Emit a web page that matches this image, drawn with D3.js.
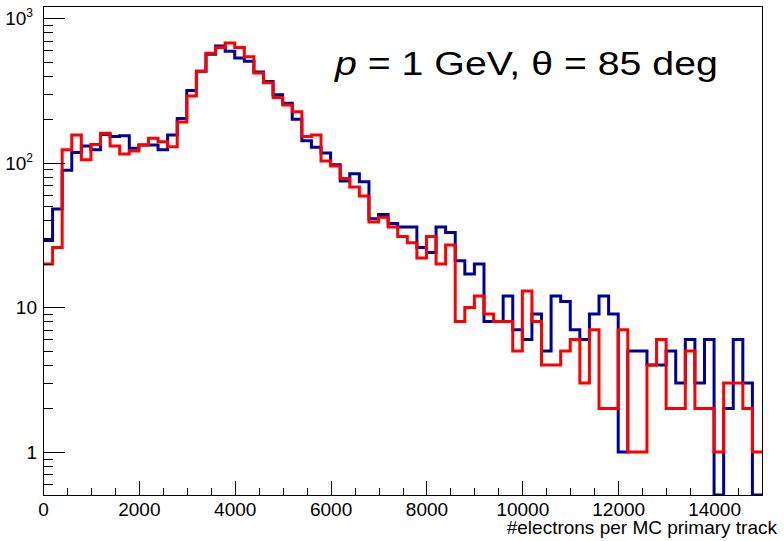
<!DOCTYPE html>
<html>
<head>
<meta charset="utf-8">
<script src="https://cdn.jsdelivr.net/npm/d3@7"></script>
<style>
  body { margin: 0; background: #fff; }
  svg { display: block; font-family: "Liberation Sans", Arial, Helvetica, sans-serif; }
</style>
</head>
<body>
<svg id="chart" width="784" height="541"></svg>
<script>
/* histogram data: 75 bins of 200 electrons, 0 .. 15000 */
var binWidth = 200
var blueCounts = [
  29, 48, 89, 118, 131, 123, 157, 152, 154, 126,
  133, 133, 123, 156, 203, 316, 430, 563, 643, 592,
  531, 504, 425, 365, 296, 258, 200, 142, 128, 117,
  97, 75, 84, 74, 41, 44, 38, 36, 36, 26,
  24, 36, 33, 21, 17, 20, 8, 8, 12, 7,
  6, 9, 5, 12, 11, 7, 6, 9, 12, 9,
  1, 5, 5, 4, 4, 5, 3, 6, 3, 6,
  0, 2, 6, 3, 0
]
var redCounts = [
  20, 26, 123, 156, 105, 134, 160, 131, 115, 121,
  133, 148, 140, 129, 192, 290, 430, 573, 627, 675,
  627, 542, 418, 358, 283, 251, 226, 152, 156, 103,
  95, 78, 68, 59, 39, 42, 36, 31, 28, 22,
  31, 20, 27, 8, 10, 12, 9, 8, 8, 5,
  13, 8, 4, 4, 5, 6, 3, 7, 2, 2,
  7, 1, 1, 4, 6, 2, 2, 5, 2, 2,
  1, 3, 3, 2, 1
]
var xTicks = [0, 2000, 4000, 6000, 8000, 10000, 12000, 14000]
var xMinorStep = 500
var yTicks = [1, 10, 100, 1000]
var yTickBase = ["1", "10", "10", "10"]
var yTickExp = ["", "", "2", "3"]
var xTitle = "#electrons per MC primary track"

/* frame */
var fLeft = 43, fRight = 762, fTop = 6, fBottom = 495
var xMax = binWidth * blueCounts.length
var yMin = 0.504, yMax = 1216

var svg = d3.select("#chart")

var x = d3.scaleLinear().domain([0, xMax]).range([fLeft, fRight])
var y = d3.scaleLog().domain([yMin, yMax]).range([fBottom, fTop])

svg.append("clipPath").attr("id", "frameClip")
  .append("rect")
  .attr("x", fLeft).attr("y", fTop)
  .attr("width", fRight - fLeft).attr("height", fBottom - fTop)

/* step outline like ROOT "HIST" (empty bins sit on the frame bottom) */
var stepPoints = function (counts) {
  var pts = []
  counts.forEach(function (v, i) {
    var yy = y(Math.max(v, yMin))
    pts.push([x(i * binWidth), yy])
    pts.push([x((i + 1) * binWidth), yy])
  })
  return pts
}

var line = d3.line()

var hists = svg.append("g").attr("clip-path", "url(#frameClip)")
hists.append("path")
  .attr("d", line(stepPoints(blueCounts)))
  .attr("fill", "none")
  .attr("stroke", "#000099")
  .attr("stroke-width", 3)
hists.append("path")
  .attr("d", line(stepPoints(redCounts)))
  .attr("fill", "none")
  .attr("stroke", "#ff0000")
  .attr("stroke-width", 3)

/* frame box */
svg.append("rect")
  .attr("x", fLeft).attr("y", fTop)
  .attr("width", fRight - fLeft).attr("height", fBottom - fTop)
  .attr("fill", "none")
  .attr("stroke", "#000")
  .attr("stroke-width", 1)
  .attr("shape-rendering", "crispEdges")

/* x axis: ticks point inside */
var minorX = d3.range(0, xMax, xMinorStep).filter(function (v) { return v % 2000 !== 0 })
svg.append("g")
  .attr("transform", "translate(0," + fBottom + ")")
  .call(d3.axisBottom(x).tickValues(minorX).tickSize(-7).tickFormat(""))
svg.append("g")
  .attr("class", "xaxis")
  .attr("transform", "translate(0," + fBottom + ")")
  .call(d3.axisBottom(x).tickValues(xTicks).tickSize(-14).tickPadding(7.5).tickFormat(d3.format("d")))

/* y axis: log, minor ticks 2..9 per decade */
var minorY = []
;[0.1, 1, 10, 100].forEach(function (dec) {
  for (var k = 2; k <= 9; k++) {
    var v = k * dec
    if (v >= yMin && v <= yMax) minorY.push(v)
  }
})
svg.append("g")
  .attr("transform", "translate(" + fLeft + ",0)")
  .call(d3.axisLeft(y).tickValues(minorY).tickSize(-10).tickFormat(""))
svg.append("g")
  .attr("transform", "translate(" + fLeft + ",0)")
  .call(d3.axisLeft(y).tickValues(yTicks).tickSize(-22).tickFormat(""))

svg.selectAll(".domain").attr("stroke", "#000").attr("shape-rendering", "crispEdges")
svg.selectAll(".tick line").attr("stroke", "#000").attr("shape-rendering", "crispEdges")
svg.selectAll(".xaxis text").attr("font-size", 19).attr("fill", "#000")
  .attr("font-family", "Liberation Sans, Arial, sans-serif")

var yl = svg.append("g")
  .attr("font-size", 19)
  .attr("text-anchor", "end")
yTicks.forEach(function (t, i) {
  var txt = yl.append("text")
    .attr("x", yTickExp[i] ? 33 : 37)
    .attr("y", y(t) + 7)
  txt.append("tspan").text(yTickBase[i])
  if (yTickExp[i]) {
    txt.append("tspan").attr("font-size", 12).attr("dy", -8).text(yTickExp[i])
  }
})

/* axis title */
svg.append("text")
  .attr("x", 777).attr("y", 534)
  .attr("text-anchor", "end")
  .attr("font-size", 19)
  .text(xTitle)

/* label */
var lbl = svg.append("text")
  .attr("x", 0).attr("y", 0)
  .attr("font-size", 33)
lbl.append("tspan").attr("font-style", "italic").text("p")
lbl.append("tspan").text(" = 1 GeV, \u03b8 = 85 deg")
var w = lbl.node().getComputedTextLength()
lbl.attr("transform", "translate(335,75) scale(" + (383 / w) + ",1)")
</script>
</body>
</html>
